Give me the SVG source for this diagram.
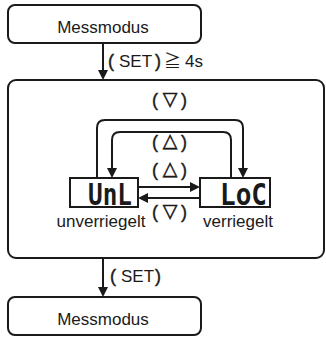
<svg xmlns="http://www.w3.org/2000/svg" width="326" height="337" viewBox="0 0 326 337">
  <defs>
    <marker id="ah" viewBox="0 0 10 10" refX="1" refY="5" markerWidth="10" markerHeight="10" markerUnits="userSpaceOnUse" orient="auto">
      <path d="M0,0 L10,5 L0,10 z" fill="#1a1a1a"/>
    </marker>
  </defs>
  <style>
    .box { fill: #fff; stroke: #1a1a1a; stroke-width: 2; }
    .wire { fill: none; stroke: #1a1a1a; stroke-width: 2; marker-end: url(#ah); }
    .t { font-family: "Liberation Sans", Arial, sans-serif; font-size: 17px; fill: #1a1a1a; }
    .p { font-family: "Liberation Sans", Arial, sans-serif; font-size: 18px; fill: #1a1a1a; stroke: #1a1a1a; stroke-width: 0.4; }
    .sym { font-family: "DejaVu Sans", sans-serif; font-size: 19px; fill: #1a1a1a; stroke: #1a1a1a; stroke-width: 0.5; }
    .cjk { font-family: "Noto Sans CJK JP", sans-serif; font-size: 17px; fill: #1a1a1a; }
    .seg { font-family: "DejaVu Sans Mono", monospace; font-weight: bold; font-size: 30px; fill: #1a1a1a; }
  </style>

  <rect width="326" height="337" fill="#fff"/>

  <!-- lock menu frame -->
  <g id="menu">
    <rect class="box" x="8" y="80" width="316" height="178" rx="8"/>
  </g>

  <g id="mess-top">
    <rect class="box" x="8" y="5" width="193" height="38" rx="7"/>
    <text class="t" x="103" y="33" text-anchor="middle">Messmodus</text>
  </g>

  <g id="mess-bottom">
    <rect class="box" x="8" y="297" width="193" height="38" rx="7"/>
    <text class="t" x="103" y="325" text-anchor="middle">Messmodus</text>
  </g>

  <g id="unl">
    <rect class="box" x="70" y="178" width="68" height="29"/>
    <text class="seg" x="88" y="205" textLength="44" lengthAdjust="spacingAndGlyphs">UnL</text>
    <text class="t" x="101" y="227" text-anchor="middle">unverriegelt</text>
  </g>

  <g id="loc">
    <rect class="box" x="200" y="178" width="70" height="29"/>
    <text class="seg" x="220" y="205" textLength="47" lengthAdjust="spacingAndGlyphs">LoC</text>
    <text class="t" x="238" y="227" text-anchor="middle">verriegelt</text>
  </g>

  <g id="connectors">
    <path class="wire" d="M103,43 V71"/>
    <path class="wire" d="M103,258 V288"/>
    <path class="wire" d="M97,179 V128 Q97,120 105,120 H235 Q243,120 243,128 V169"/>
    <path class="wire" d="M231,178 V140 Q231,132 223,132 H120 Q112,132 112,140 V169"/>
    <path class="wire" d="M138,187 H191"/>
    <path class="wire" d="M200,198 H147"/>
  </g>

  <g id="labels">
    <text class="p" x="108" y="67">(</text>
    <text class="t" x="119" y="67">SET</text>
    <text class="p" x="155" y="67">)</text>
    <text class="cjk" x="164" y="67">≧</text>
    <text class="t" x="185" y="67">4s</text>

    <text class="p" x="110" y="282">(</text>
    <text class="t" x="121" y="282">SET</text>
    <text class="p" x="155" y="282">)</text>

    <text class="p" x="152" y="106">(</text><text class="sym" x="170" y="105" text-anchor="middle">▽</text><text class="p" x="181" y="106">)</text>
    <text class="p" x="152" y="148">(</text><text class="sym" x="170" y="147" text-anchor="middle">△</text><text class="p" x="181" y="148">)</text>
    <text class="p" x="152" y="176">(</text><text class="sym" x="170" y="175" text-anchor="middle">△</text><text class="p" x="181" y="176">)</text>
    <text class="p" x="152" y="218">(</text><text class="sym" x="170" y="217" text-anchor="middle">▽</text><text class="p" x="181" y="218">)</text>
  </g>
</svg>
